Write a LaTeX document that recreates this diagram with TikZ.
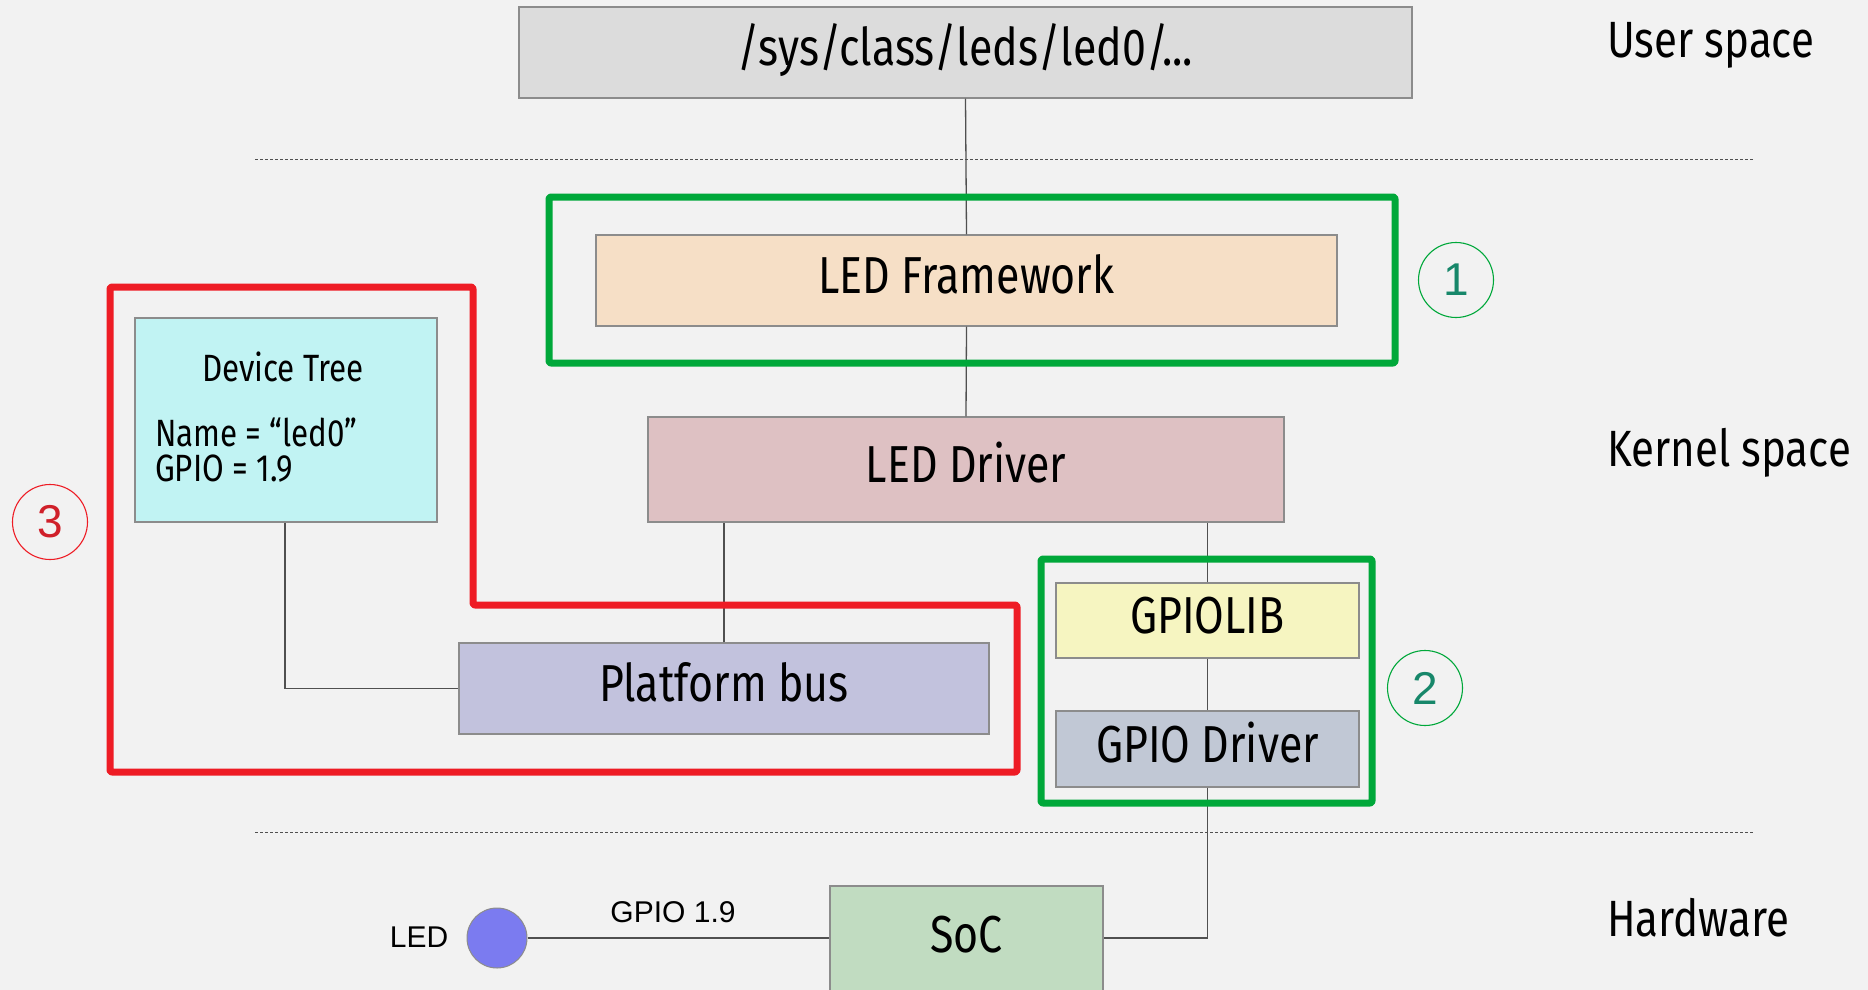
\documentclass[tikz,border=0pt]{standalone}
\usepackage{fontspec}
\setmainfont{Fira Sans}[FakeStretch=0.825]
\newfontfamily\arialf{Liberation Sans}
\definecolor{bg}{HTML}{F2F2F2}
\definecolor{boxgray}{HTML}{8C8C8C}
\definecolor{linegray}{HTML}{505050}
\definecolor{sysfill}{HTML}{DCDCDC}
\definecolor{fwfill}{HTML}{F6DFC6}
\definecolor{drvfill}{HTML}{DEC1C3}
\definecolor{dtfill}{HTML}{C1F3F3}
\definecolor{pbfill}{HTML}{C2C2DD}
\definecolor{libfill}{HTML}{F6F5C1}
\definecolor{gdfill}{HTML}{C1C8D5}
\definecolor{socfill}{HTML}{C1DCC1}
\definecolor{ledfill}{HTML}{7B7BF0}
\definecolor{frgreen}{HTML}{00A83A}
\definecolor{frred}{HTML}{EE1C25}
\definecolor{numteal}{HTML}{17876A}
\definecolor{numred}{HTML}{D0202A}
\tikzset{
  box/.style={draw=boxgray, line width=1.3, inner sep=0, anchor=center},
  big/.style={font=\fontsize{52}{60}\selectfont, text height=36, text depth=10},
  mid/.style={font=\fontsize{38}{35}\selectfont},
  conn/.style={draw=linegray, line width=1.3},
  sep/.style={draw=linegray, line width=1, dash pattern=on 3 off 2},
  frame/.style={line width=7, line join=round, rounded corners=2},
  numc/.style={circle, minimum size=75, inner sep=0, line width=1.1, font=\arialf\fontsize{46}{50}\selectfont},
  region/.style={anchor=west, inner sep=0, font=\fontsize{51}{60}\selectfont},
  small/.style={font=\arialf\fontsize{30}{36}\selectfont}
}
\begin{document}
\begin{tikzpicture}[x=1pt,y=-1pt]
\useasboundingbox (0,0) rectangle (1868,990);
\clip (0,0) rectangle (1868,990);
\fill[bg] (0,0) rectangle (1868,990);

% separators
\draw[sep] (255,159) -- (1753,159);
\draw[sep] (255,832) -- (1753,832);

% boxes
\node[box, fill=sysfill, minimum width=893, minimum height=91, big] (sys) at (965.5,52.5) {/sys/class/leds/led0/...};
\node[box, fill=fwfill, minimum width=741, minimum height=91, big] (fw) at (966.5,280.5) {LED Framework};
\node[box, fill=drvfill, minimum width=636, minimum height=105, big] (drv) at (966,469.5) {LED Driver};
\node[box, fill=dtfill, minimum width=302, minimum height=204] (dt) at (286,420) {};
\node[box, fill=pbfill, minimum width=530, minimum height=91, big] (pb) at (724,688.5) {Platform bus};
\node[box, fill=libfill, minimum width=303, minimum height=75, big] (lib) at (1207.5,620.5) {GPIOLIB};
\node[box, fill=gdfill, minimum width=303, minimum height=76, big] (gd) at (1207.5,749) {GPIO Driver};
\node[box, fill=socfill, minimum width=273, minimum height=140] (soc) at (966.5,956) {};
\node[big] (soctext) at (966.5,939) {SoC};
\node[circle, draw=boxgray, line width=1, fill=ledfill, minimum size=60, inner sep=0] (led) at (497,938) {};

% device tree texts
\node[mid] (dttitle) at (283,367) {Device Tree};
\node[mid, anchor=west, inner sep=0, align=left] (dtprops) at (155,450) {Name = “led0”\\GPIO = 1.9};

% labels
\node[small] (ledlbl) at (419,937) {LED};
\node[small] (gpiolbl) at (673,912) {GPIO 1.9};
\node[region] (us) at (1607,45) {User space};
\node[region] (ks) at (1607,453) {Kernel space};
\node[region] (hw) at (1607,918) {Hardware};

% connectors
\draw[conn] (sys.south) -- (fw.north);
\draw[conn] (fw.south) -- (drv.north);
\draw[conn] (pb.north) -- (pb.north |- drv.south);
\draw[conn] (lib.north) -- (lib.north |- drv.south);
\draw[conn] (lib.south) -- (gd.north);
\draw[conn] (gd.south) |- (soc.east |- led.east);
\draw[conn] (dt.south -| 285,0) |- (pb.west);
\draw[conn] (led.east) -- (led.east -| soc.west);

% frames
\draw[frame, frgreen] (549,197) rectangle (1395,363);
\draw[frame, frgreen] (1041,559) rectangle (1372,803);
\draw[frame, frred] (110,287) -- (473,287) -- (473,605) -- (1017,605) -- (1017,772) -- (110,772) -- cycle;

% numbers
\node[numc, draw=frgreen, text=numteal] (n1) at (1456,280) {1};
\node[numc, draw=frgreen, text=numteal] (n2) at (1425,688) {2};
\node[numc, draw=frred, text=numred] (n3) at (50,522) {3};
\end{tikzpicture}
\end{document}
